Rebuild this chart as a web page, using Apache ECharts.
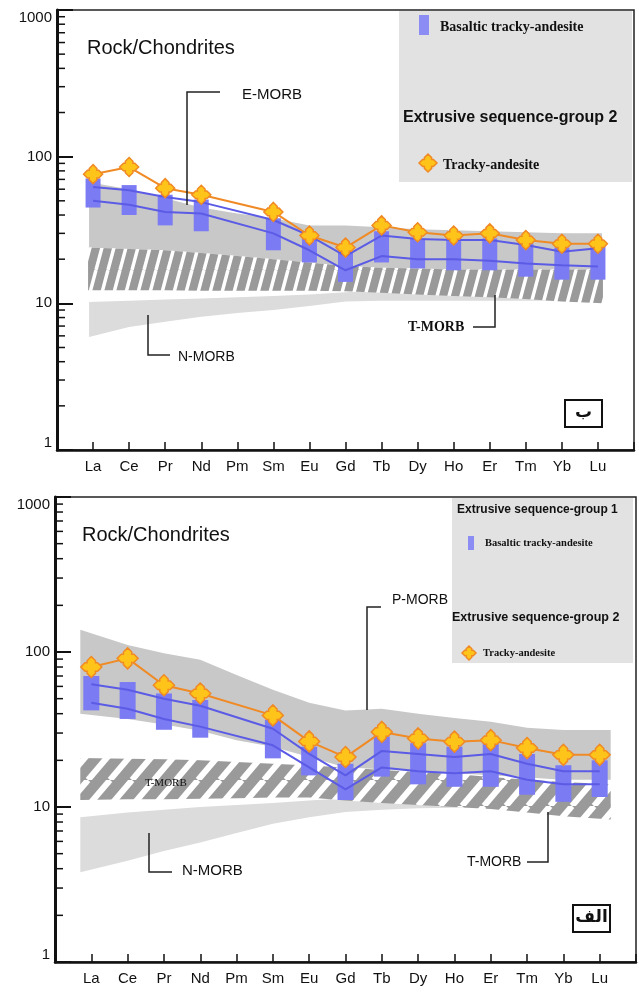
<!DOCTYPE html>
<html>
<head>
<meta charset="utf-8">
<script src="https://cdn.jsdelivr.net/npm/echarts@6.0.0/dist/echarts.min.js"></script>
<style>
html, body { margin: 0; padding: 0; background: #fff; }
#main { width: 639px; height: 994px; }
</style>
</head>
<body>
<div id="main"></div>
<script>
var myChart = echarts.init(document.getElementById('main'), null, {renderer: 'canvas'});

// REE order on the x axis
var elements = ['La', 'Ce', 'Pr', 'Nd', 'Pm', 'Sm', 'Eu', 'Gd', 'Tb', 'Dy', 'Ho', 'Er', 'Tm', 'Yb', 'Lu'];
var minorTicks = [2, 3, 4, 5, 6, 7, 8, 9, 20, 30, 40, 50, 60, 70, 80, 90, 200, 300, 400, 500, 600, 700, 800, 900];

// ---- panel ب (top) ----
var trackyTop   = [76, 85, 61, 55, null, 42, 29, 24, 34, 30.5, 29, 30, 27, 25.5, 25.5];
var basMaxTop   = [71, 64, 55, 51, null, 38, 28, 22.5, 31, 27.7, 27, 27.7, 25.6, 24, 25];
var basMinTop   = [45, 40, 34, 31, null, 23, 19, 14, 19, 17.3, 16.8, 16.8, 15.2, 14.5, 14.5];
var basATop     = [62, 59, 53, 49, null, 37, 29, 21, 29, 27.5, 27, 27, 25, 22.5, 23.7];
var basBTop     = [50, 47, 42, 41, null, 30, 23, 16.8, 21, 20, 20, 19.5, 18.7, 18.2, 17.8];
var eMorbHiTop  = [67, 60, 52, 45, 41, 38, 34, 34, 33, 32, 31.5, 31, 30.5, 30, 30];
var eMorbLoTop  = [24, 23.5, 23, 22, 21, 20, 19, 18, 17.5, 17.3, 17, 17, 17, 17, 17];
var tMorbHiTop  = [24, 23.5, 23, 22, 21, 20, 19, 18, 17.5, 17.3, 17, 17, 17, 17, 17];
var tMorbLoTop  = [12.3, 12.3, 12.3, 12.2, 12.2, 12.2, 12.2, 12.1, 11.8, 11.5, 11.2, 11, 10.7, 10.3, 10];
var nMorbHiTop  = [10.2, 10.4, 10.6, 10.8, 11, 11.2, 11.5, 11.9, 12.2, 12.3, 12.3, 12.3, 12.3, 12.3, 12.3];
var nMorbLoTop  = [5.9, 6.9, 7.5, 8.1, 8.6, 9.0, 9.6, 10.3, 10.4, 10.4, 10.4, 10.4, 10.4, 10.4, 10.4];

// ---- panel الف (bottom) ----
var trackyBot   = [80, 91, 61, 54, null, 39, 26.5, 21, 30.5, 27.7, 26.4, 27, 24, 21.7, 21.7];
var basMaxBot   = [70, 64, 54, 49, null, 36.5, 24.5, 19, 28.5, 25.8, 24.5, 25.8, 22, 18.6, 20];
var basMinBot   = [42, 37, 31.5, 28, null, 20.6, 16, 11.1, 15.7, 14, 13.5, 13.5, 12, 10.8, 11.6];
var basABot     = [62, 57, 50, 45, null, 32, 22, 16, 23, 22, 21, 22, 19, 17, 17];
var basBBot     = [47, 43, 37, 33, null, 25, 18, 13, 18, 17, 16.5, 17, 15, 14, 14];
var pMorbHiBot  = [139, 111, 98, 89, 71, 57, 47, 42, 43, 40, 37.5, 35.5, 32.4, 31.4, 31.4];
var pMorbLoBot  = [40, 37, 34, 31, 27, 24.5, 21, 18, 17.5, 17, 16.5, 16, 15.5, 15, 15];
var tMorbHiBot  = [20.7, 20.5, 20.3, 20, 19.5, 19, 18.5, 18, 17.3, 16.8, 16.3, 15.6, 15, 14.5, 14];
var tMorbLoBot  = [11.1, 11.2, 11.2, 11.3, 11.4, 11.5, 11.5, 11, 10.6, 10.3, 10, 9.7, 9.2, 8.7, 8.3];
var nMorbHiBot  = [8.6, 9.2, 9.6, 10, 10.3, 10.6, 11, 11.4, 11.5, 11.5, 11.4, 11.3, 11, 10.8, 10.5];
var nMorbLoBot  = [3.8, 4.5, 5.2, 5.9, 6.8, 7.8, 8.6, 9.3, 9.6, 9.8, 9.9, 10, 10, 10, 10];

var ORANGE = '#f08a24', YELLOW = '#ffc41a', BLUE_BAR = '#7b7bf3', BLUE_LINE = '#5b5be6';
// fat plus sign with pointed arm tips
var STAR = 'path://M10,0L14,4L14,6L16,6L20,10L16,14L14,14L14,16L10,20L6,16L6,14L4,14L0,10L4,6L6,6L6,4Z';

function xy(arr) {
    return arr.map(function (v, i) { return [i + 1, v]; });
}

// diagonal hatch tile: gray with white stripes
function makeHatch(period, height, gap, color) {
    var c = document.createElement('canvas');
    c.width = period; c.height = height;
    var ctx = c.getContext('2d');
    ctx.fillStyle = color;
    ctx.fillRect(0, 0, period, height);
    ctx.strokeStyle = '#ffffff';
    ctx.lineWidth = gap;
    for (var k = -1; k <= 1; k++) {
        ctx.beginPath();
        ctx.moveTo(k * period, height);
        ctx.lineTo((k + 1) * period, 0);
        ctx.stroke();
    }
    return c;
}
var hatchTop = makeHatch(12, 45, 3.5, '#9a9a9a');
var hatchBot = makeHatch(22, 26, 6, '#9a9a9a');

// band polygon; pad widens the ends a little past La and Lu
function bandSeries(hi, lo, fill, idx, z, pad) {
    return {
        type: 'custom', xAxisIndex: idx, yAxisIndex: idx, z: z, silent: true,
        data: hi.map(function (v, i) { return [i + 1, v, lo[i]]; }),
        renderItem: function (params, api) {
            if (params.dataIndex !== 0) return null;
            var n = hi.length, pts = [];
            for (var i = 0; i < n; i++) {
                var p = api.coord([i + 1, hi[i]]);
                if (i === 0) p[0] -= pad;
                if (i === n - 1) p[0] += pad;
                pts.push(p);
            }
            for (var j = n - 1; j >= 0; j--) {
                var q = api.coord([j + 1, lo[j]]);
                if (j === 0) q[0] -= pad;
                if (j === n - 1) q[0] += pad;
                pts.push(q);
            }
            return {type: 'polygon', shape: {points: pts}, style: {fill: fill}};
        }
    };
}

function barSeries(hi, lo, idx, w) {
    var data = [];
    hi.forEach(function (v, i) { if (v != null) data.push([i + 1, v, lo[i]]); });
    return {
        type: 'custom', xAxisIndex: idx, yAxisIndex: idx, z: 4, silent: true,
        data: data,
        renderItem: function (params, api) {
            var t = api.coord([api.value(0), api.value(1)]);
            var b = api.coord([api.value(0), api.value(2)]);
            return {type: 'rect', shape: {x: t[0] - w / 2, y: t[1], width: w, height: b[1] - t[1]},
                    style: {fill: BLUE_BAR}};
        }
    };
}

function lineSeries(arr, idx, color, z, sym, size) {
    return {
        type: 'line', xAxisIndex: idx, yAxisIndex: idx, z: z, silent: true,
        data: xy(arr), connectNulls: true,
        symbol: sym || 'none', symbolSize: size || 0,
        itemStyle: {color: YELLOW, borderColor: ORANGE, borderWidth: 1.5},
        lineStyle: {color: color, width: 2}
    };
}

function minorTickSeries(idx) {
    return {
        type: 'custom', xAxisIndex: idx, yAxisIndex: idx, z: 10, silent: true,
        data: minorTicks.map(function (v) { return [0, v]; }),
        renderItem: function (params, api) {
            var p = api.coord([0, api.value(1)]);
            return {type: 'line', shape: {x1: p[0] + 1, y1: p[1], x2: p[0] + 8, y2: p[1]},
                    style: {stroke: '#111', lineWidth: 1.5}};
        }
    };
}

function xAxisFor(idx) {
    return {
        type: 'value', gridIndex: idx, min: 0, max: 16, interval: 1,
        axisLine: {lineStyle: {color: '#111', width: 2.5}},
        axisTick: {inside: true, length: 8, lineStyle: {color: '#111', width: 1.5}},
        axisLabel: {
            margin: 9, fontSize: 15, color: '#111', fontFamily: 'Liberation Sans',
            formatter: function (v) { return elements[v - 1] || ''; }
        },
        splitLine: {show: false}
    };
}

function yAxisFor(idx) {
    return {
        type: 'log', logBase: 10, gridIndex: idx, min: 1, max: 1000,
        axisLine: {show: true, lineStyle: {color: '#111', width: 3}},
        axisTick: {show: true, inside: true, length: 16, lineStyle: {color: '#111', width: 2}},
        axisLabel: {margin: 5, fontSize: 15, color: '#111', fontFamily: 'Liberation Sans',
                    verticalAlignMaxLabel: 'top', verticalAlignMinLabel: 'bottom',
                    formatter: function (v) { return String(Math.round(v)); }},
        splitLine: {show: false}
    };
}

function txt(x, y, s, font, align) {
    return {type: 'text', z: 100, style: {text: s, x: x, y: y, font: font, fill: '#111',
            textAlign: align || 'left', textVerticalAlign: 'middle', align: align || 'left', verticalAlign: 'middle'}};
}
function pline(pts) {
    return {type: 'polyline', z: 100, shape: {points: pts}, style: {stroke: '#222', lineWidth: 1.5, fill: null}};
}
function box(x, y, w, h, fill) {
    return {type: 'rect', z: 90, shape: {x: x, y: y, width: w, height: h}, style: {fill: fill}};
}
// legend icon: same plus-star outline as the series symbol
function starIcon(cx, cy, r) {
    var a = 0.4 * r, b = 0.6 * r;
    var pts = [[0, -r], [a, -b], [a, -a], [b, -a], [r, 0], [b, a], [a, a], [a, b],
               [0, r], [-a, b], [-a, a], [-b, a], [-r, 0], [-b, -a], [-a, -a], [-a, -b]];
    return {type: 'polygon', z: 101,
            shape: {points: pts.map(function (p) { return [cx + p[0], cy + p[1]]; })},
            style: {fill: YELLOW, stroke: ORANGE, lineWidth: 1.5}};
}
function letterBox(x, y, s) {
    return [
        {type: 'rect', z: 100, shape: {x: x, y: y, width: 37, height: 27}, style: {fill: '#fff', stroke: '#111', lineWidth: 2}},
        txt(x + 18.5, y + 13, s, 'bold 17px "DejaVu Sans"', 'center')
    ];
}

var SANS = '"Liberation Sans", Arial, sans-serif';
var SERIF = '"Liberation Serif", "Times New Roman", serif';

var graphics = [
    // top panel
    txt(87, 48, 'Rock/Chondrites', '20px ' + SANS),
    pline([[220, 92], [187, 92], [187, 205]]),
    txt(242, 95, 'E-MORB', '15px ' + SANS),
    pline([[148, 315], [148, 355], [170, 355]]),
    txt(178, 357, 'N-MORB', '14px ' + SANS),
    txt(408, 327, 'T-MORB', 'bold 14px ' + SERIF),
    pline([[473, 327], [495, 327], [495, 295]]),
    box(399, 11, 233, 171, '#e2e2e2'),
    {type: 'rect', z: 101, shape: {x: 419, y: 15, width: 10, height: 20}, style: {fill: '#8c8cf5'}},
    txt(440, 27, 'Basaltic tracky-andesite', 'bold 14px ' + SERIF),
    txt(403, 118, 'Extrusive sequence-group 2', 'bold 16px ' + SANS),
    starIcon(428, 163, 9),
    txt(443, 165, 'Tracky-andesite', 'bold 14px ' + SERIF),
    // bottom panel
    txt(82, 535, 'Rock/Chondrites', '20px ' + SANS),
    box(452, 498, 181, 165, '#e2e2e2'),
    txt(457, 510, 'Extrusive sequence-group 1', 'bold 12px ' + SANS),
    {type: 'rect', z: 101, shape: {x: 468, y: 536, width: 6, height: 14}, style: {fill: '#8c8cf5'}},
    txt(485, 543, 'Basaltic tracky-andesite', 'bold 10.5px ' + SERIF),
    txt(452, 618, 'Extrusive sequence-group 2', 'bold 12.5px ' + SANS),
    starIcon(469, 653, 7),
    txt(483, 653, 'Tracky-andesite', 'bold 10.5px ' + SERIF),
    txt(392, 600, 'P-MORB', '14px ' + SANS),
    pline([[381, 607], [367, 607], [367, 710]]),
    txt(145, 783, 'T-MORB', '11px ' + SERIF),
    pline([[149, 833], [149, 872], [172, 872]]),
    txt(182, 871, 'N-MORB', '15px ' + SANS),
    txt(467, 862, 'T-MORB', '14px ' + SANS),
    pline([[527, 862], [548, 862], [548, 812]])
].concat(letterBox(565, 400, 'ب'), letterBox(573, 905, 'الف'));

option = {
    backgroundColor: '#ffffff',
    animation: false,
    grid: [
        {left: 57, top: 10, width: 577, height: 440, show: true, borderColor: '#222', borderWidth: 1.5},
        {left: 55, top: 497, width: 582, height: 465, show: true, borderColor: '#222', borderWidth: 1.5}
    ],
    xAxis: [xAxisFor(0), xAxisFor(1)],
    yAxis: [yAxisFor(0), yAxisFor(1)],
    series: [
        bandSeries(nMorbHiTop, nMorbLoTop, '#dcdcdc', 0, 1, 4),
        bandSeries(eMorbHiTop, eMorbLoTop, '#c8c8c8', 0, 2, 4),
        bandSeries(tMorbHiTop, tMorbLoTop, {image: hatchTop, repeat: 'repeat'}, 0, 3, 5),
        minorTickSeries(0),
        barSeries(basMaxTop, basMinTop, 0, 15),
        lineSeries(basATop, 0, BLUE_LINE, 5),
        lineSeries(basBTop, 0, BLUE_LINE, 5),
        lineSeries(trackyTop, 0, ORANGE, 6, STAR, 19),

        bandSeries(nMorbHiBot, nMorbLoBot, '#dcdcdc', 1, 1, 11),
        bandSeries(pMorbHiBot, pMorbLoBot, '#c8c8c8', 1, 2, 11),
        bandSeries(tMorbHiBot, tMorbLoBot, {image: hatchBot, repeat: 'repeat'}, 1, 3, 11),
        minorTickSeries(1),
        barSeries(basMaxBot, basMinBot, 1, 16),
        lineSeries(basABot, 1, BLUE_LINE, 5),
        lineSeries(basBBot, 1, BLUE_LINE, 5),
        lineSeries(trackyBot, 1, ORANGE, 6, STAR, 21)
    ],
    graphic: {elements: graphics}
};

myChart.setOption(option);
</script>
</body>
</html>
